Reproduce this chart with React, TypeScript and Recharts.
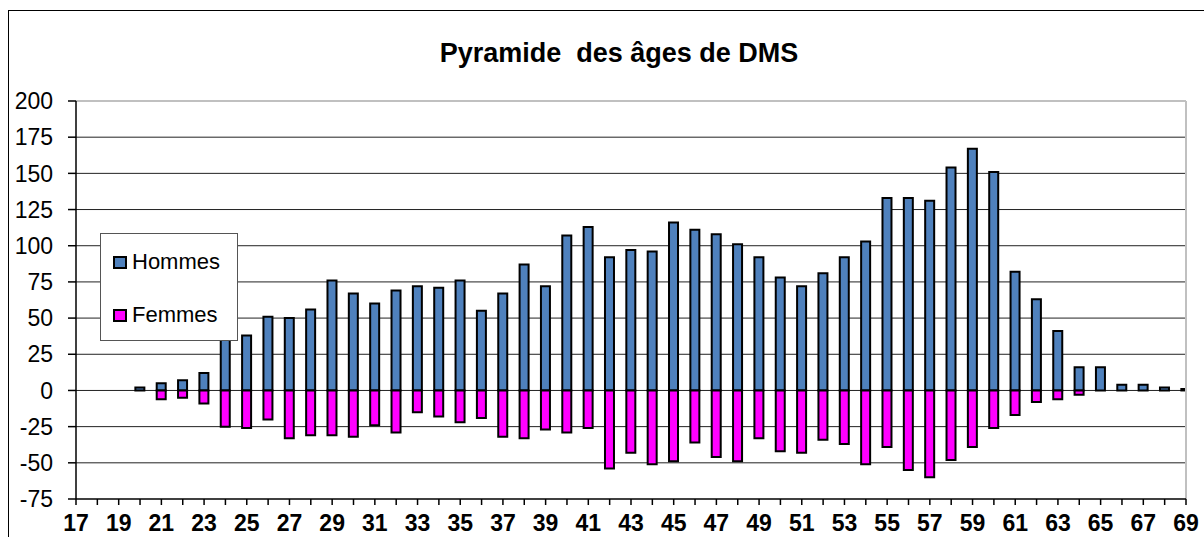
import React from 'react';
import { BarChart, Bar, XAxis, YAxis, CartesianGrid, ReferenceLine, Legend } from 'recharts';

const TITLE = 'Pyramide  des âges de DMS';
const SERIES_NAMES = ['Hommes', 'Femmes'];
const SERIES_COLORS = ['#4f81bd', '#ff00ff'];

const AGES = [17, 18, 19, 20, 21, 22, 23, 24, 25, 26, 27, 28, 29, 30, 31, 32, 33, 34, 35, 36, 37, 38, 39, 40, 41, 42, 43, 44, 45, 46, 47, 48, 49, 50, 51, 52, 53, 54, 55, 56, 57, 58, 59, 60, 61, 62, 63, 64, 65, 66, 67, 68, 69];
const HOMMES = [null, null, null, 2, 5, 7, 12, 37, 38, 51, 50, 56, 76, 67, 60, 69, 72, 71, 76, 55, 67, 87, 72, 107, 113, 92, 97, 96, 116, 111, 108, 101, 92, 78, 72, 81, 92, 103, 133, 133, 131, 154, 167, 151, 82, 63, 41, 16, 16, 4, 4, 2, 1];
const FEMMES = [null, null, null, 0, -6, -5, -9, -25, -26, -20, -33, -31, -31, -32, -24, -29, -15, -18, -22, -19, -32, -33, -27, -29, -26, -54, -43, -51, -49, -36, -46, -49, -33, -42, -43, -34, -37, -51, -39, -55, -60, -48, -39, -26, -17, -8, -6, -3, 0, 0, 0, 0, 0];
const Y_TICKS = [-75, -50, -25, 0, 25, 50, 75, 100, 125, 150, 175, 200];
const GRID_VALUES = [-50, -25, 0, 25, 50, 75, 100, 125, 150, 175];

const data = AGES.map((age, i) => ({ age, hommes: HOMMES[i], femmes: FEMMES[i] }));

const FONT = '"Liberation Sans", Arial, sans-serif';

const XTick = (props: any) => {
  const { x, y, payload } = props;
  if (payload.value % 2 === 0) return <g />;
  return (
    <text x={x} y={y} dy="0.71em" textAnchor="middle" fontFamily={FONT} fontSize={23} fontWeight="bold" fill="#000">
      {payload.value}
    </text>
  );
};

const YTick = (props: any) => {
  const { x, y, payload } = props;
  return (
    <text x={x} y={y} dy="0.355em" textAnchor="end" fontFamily={FONT} fontSize={23} fill="#000">
      {payload.value}
    </text>
  );
};

const LegendBox = () => (
  <div
    style={{
      width: 138,
      height: 108,
      boxSizing: 'border-box',
      border: '1px solid #555',
      background: '#fff',
      position: 'relative',
      fontFamily: FONT,
      fontSize: 22,
      color: '#000',
    }}
  >
    {SERIES_NAMES.map((name, i) => (
      <div key={name} style={{ position: 'absolute', left: 12, top: i === 0 ? 15 : 68, height: 26, display: 'flex', alignItems: 'center' }}>
        <div style={{ width: 14, height: 13, boxSizing: 'border-box', border: '2px solid #000', background: SERIES_COLORS[i], marginRight: 5 }} />
        <span style={{ lineHeight: '26px' }}>{name}</span>
      </div>
    ))}
  </div>
);

export default function App() {
  return (
    <div style={{ position: 'absolute', left: 8, top: 10, width: 1196, height: 527, borderLeft: '1px solid #000', borderTop: '1px solid #000', boxSizing: 'border-box', background: '#fff' }}>
      <svg style={{ position: 'absolute', left: 0, top: 0 }} width={1195} height={80}>
        <text x={610} y={51} textAnchor="middle" fontFamily={FONT} fontSize={27} fontWeight="bold" fill="#000" style={{ whiteSpace: 'pre' }}>
          {TITLE}
        </text>
      </svg>
      <div style={{ position: 'absolute', left: 0, top: 0 }}>
        <BarChart width={1195} height={526} data={data} stackOffset="sign" margin={{ top: 90, right: 18, bottom: 8, left: 0 }}>
          <CartesianGrid vertical={false} stroke="#222" horizontalValues={GRID_VALUES} />
          <ReferenceLine y={200} stroke="#c0c0c0" strokeWidth={2} />
          <ReferenceLine x={69} stroke="#c0c0c0" strokeWidth={2} />
          <XAxis
            dataKey="age"
            type="number"
            domain={[17, 69]}
            ticks={AGES}
            interval={0}
            height={30}
            tickSize={6}
            tickMargin={10}
            tick={<XTick />}
            axisLine={{ stroke: '#000', strokeWidth: 1.5 }}
            tickLine={{ stroke: '#000', strokeWidth: 1.5 }}
            allowDataOverflow
          />
          <YAxis
            type="number"
            domain={[-75, 200]}
            ticks={Y_TICKS}
            interval={0}
            width={67}
            tickSize={8}
            tickMargin={15}
            tick={<YTick />}
            axisLine={{ stroke: '#000', strokeWidth: 1.5 }}
            tickLine={{ stroke: '#000', strokeWidth: 1.5 }}
          />
          <Legend
            layout="vertical"
            align="center"
            verticalAlign="middle"
            content={<LegendBox />}
            wrapperStyle={{ left: 91, top: 222, width: 138, height: 108 }}
          />
          <Bar dataKey="hommes" name={SERIES_NAMES[0]} stackId="a" fill={SERIES_COLORS[0]} stroke="#000" strokeWidth={2} barSize={9} isAnimationActive={false} />
          <Bar dataKey="femmes" name={SERIES_NAMES[1]} stackId="a" fill={SERIES_COLORS[1]} stroke="#000" strokeWidth={2} barSize={9} isAnimationActive={false} />
        </BarChart>
      </div>
    </div>
  );
}
